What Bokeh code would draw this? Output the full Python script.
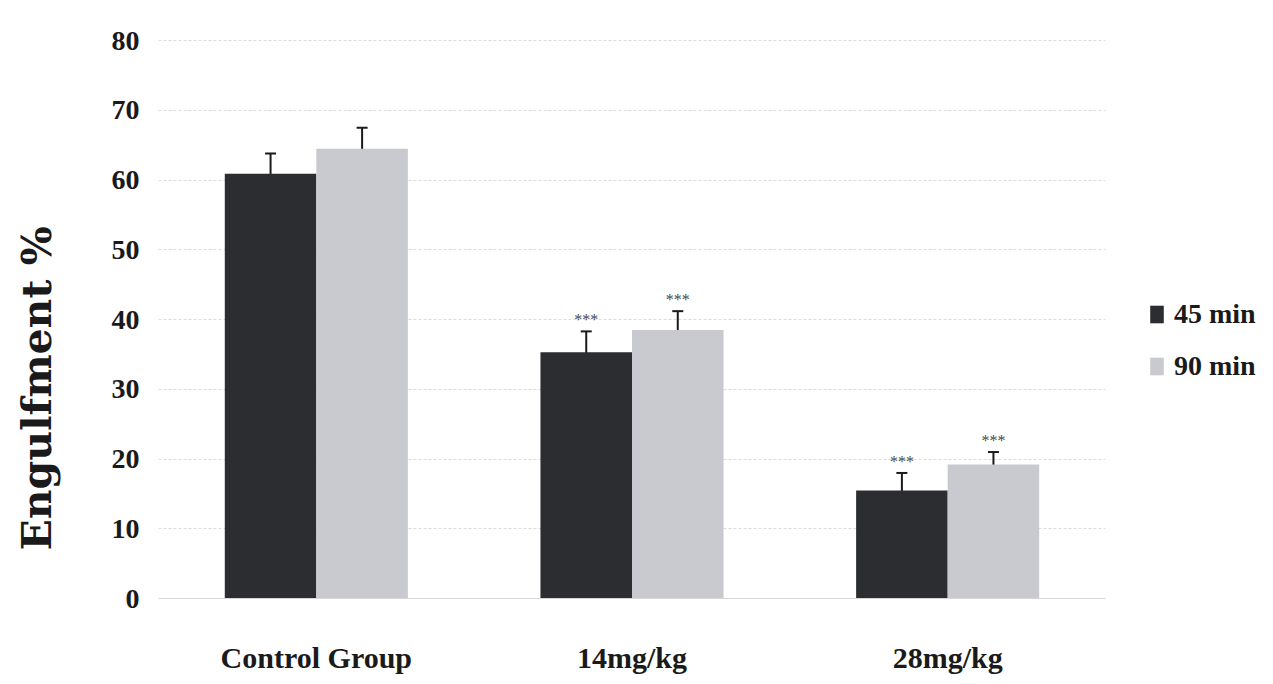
from math import pi
from bokeh.plotting import figure
from bokeh.layouts import row
from bokeh.models import ColumnDataSource, FactorRange, Whisker, TeeHead, Legend, LegendItem, Range1d
from bokeh.transform import dodge
from bokeh.core.properties import value
from bokeh.embed import file_html
from bokeh.resources import INLINE

groups = ["Control Group", "14mg/kg", "28mg/kg"]
series = ["45 min", "90 min"]
mean_45 = [60.9, 35.3, 15.5]
mean_90 = [64.5, 38.5, 19.2]
upper_45 = [63.8, 38.3, 18.0]
lower_45 = [60.2, 35.0, 14.6]
upper_90 = [67.5, 41.2, 21.0]
lower_90 = [63.9, 37.8, 17.6]
stars_45 = ["", "***", "***"]
stars_90 = ["", "***", "***"]
y_ticks = [0, 10, 20, 30, 40, 50, 60, 70, 80]
y_title = "Engulfment %"

dark = "#2b2d31"
light = "#c9cacf"
serif = "Liberation Serif"
H = 676

src = ColumnDataSource(dict(g=groups, m45=mean_45, m90=mean_90,
                            u45=upper_45, l45=lower_45, u90=upper_90, l90=lower_90,
                            s45=stars_45, s90=stars_90))

# --- left strip holding the y-axis title (frame aligned with the main chart's frame) ---
p0 = figure(width=70, height=H, x_range=Range1d(0, 70), y_range=Range1d(0, 559),
            x_axis_location=None, y_axis_location=None, output_backend="svg",
            toolbar_location=None, min_border=0)
p0.grid.grid_line_color = None
p0.outline_line_color = None
p0.text(x=[36], y=[210], text=[y_title], angle=pi / 2,
        text_align="center", text_baseline="middle",
        text_font=value("DejaVu Serif"), text_font_style="bold",
        text_font_size="41px", text_color="#1a1a1a")

# --- main chart ---
p = figure(width=1045, height=H, x_range=FactorRange(*groups, range_padding=0, factor_padding=0),
           y_range=Range1d(0, 80.15), output_backend="svg", toolbar_location=None,
           min_border_left=88, min_border_right=10, min_border_top=39, min_border_bottom=78)

off = 0.145
w = 0.29
r45 = p.vbar(x=dodge("g", -off, range=p.x_range), top="m45", width=w, source=src,
             fill_color=dark, line_color=None)
r90 = p.vbar(x=dodge("g", off, range=p.x_range), top="m90", width=w, source=src,
             fill_color=light, line_color=None)

for base, up, lo in ((-off, "u45", "l45"), (off, "u90", "l90")):
    wk = Whisker(base=dodge("g", base, range=p.x_range), upper=up, lower=lo, source=src,
                 line_color="#1a1a1a", line_width=2,
                 upper_head=TeeHead(size=11, line_color="#1a1a1a", line_width=2),
                 lower_head=TeeHead(size=11, line_color="#1a1a1a", line_width=2))
    p.add_layout(wk)

for base, up, st in ((-off, "u45", "s45"), (off, "u90", "s90")):
    p.text(x=dodge("g", base, range=p.x_range), y=up, text=st, source=src,
           text_align="center", text_baseline="bottom", y_offset=-3,
           text_font=value(serif), text_font_size="16px", text_color="#4a4a4a")

p.yaxis.ticker = y_ticks
p.yaxis.axis_line_color = None
p.yaxis.major_tick_line_color = None
p.yaxis.minor_tick_line_color = None
p.yaxis.major_label_standoff = 13
p.yaxis.major_label_text_font = serif
p.yaxis.major_label_text_font_style = "bold"
p.yaxis.major_label_text_font_size = "28px"
p.yaxis.major_label_text_color = "#1a1a1a"

p.xaxis.axis_line_color = "#d8d8d8"
p.xaxis.major_tick_line_color = None
p.xaxis.minor_tick_line_color = None
p.xaxis.major_label_standoff = 36
p.xaxis.major_label_text_font = serif
p.xaxis.major_label_text_font_style = "bold"
p.xaxis.major_label_text_font_size = "30px"
p.xaxis.major_label_text_color = "#1a1a1a"

p.xgrid.grid_line_color = None
p.ygrid.grid_line_color = "#dcdcdc"
p.ygrid.grid_line_dash = "3 2"
p.outline_line_color = None

# --- right strip holding the legend ---
p2 = figure(width=142, height=H, x_range=Range1d(0, 1), y_range=Range1d(0, 1),
            x_axis_location=None, y_axis_location=None, output_backend="svg",
            toolbar_location=None, min_border=0)
p2.grid.grid_line_color = None
p2.outline_line_color = None
# swatch renderers: their single bar lies outside the visible range
k45 = p2.vbar(x=[5], top=[5], bottom=[4], width=0.1, fill_color=dark, line_color=None)
k90 = p2.vbar(x=[5], top=[5], bottom=[4], width=0.1, fill_color=light, line_color=None)
legend = Legend(items=[LegendItem(label=series[0], renderers=[k45]),
                       LegendItem(label=series[1], renderers=[k90])],
                location=(33, 216), orientation="vertical",
                glyph_width=17, glyph_height=22, label_height=22, spacing=20,
                label_text_font=serif, label_text_font_style="bold",
                label_text_font_size="28px", label_text_color="#1a1a1a",
                label_standoff=9, padding=0, margin=0,
                border_line_color=None, background_fill_alpha=0)
p2.add_layout(legend, "center")

open("out.html", "w").write(file_html(row(p0, p, p2), INLINE))
